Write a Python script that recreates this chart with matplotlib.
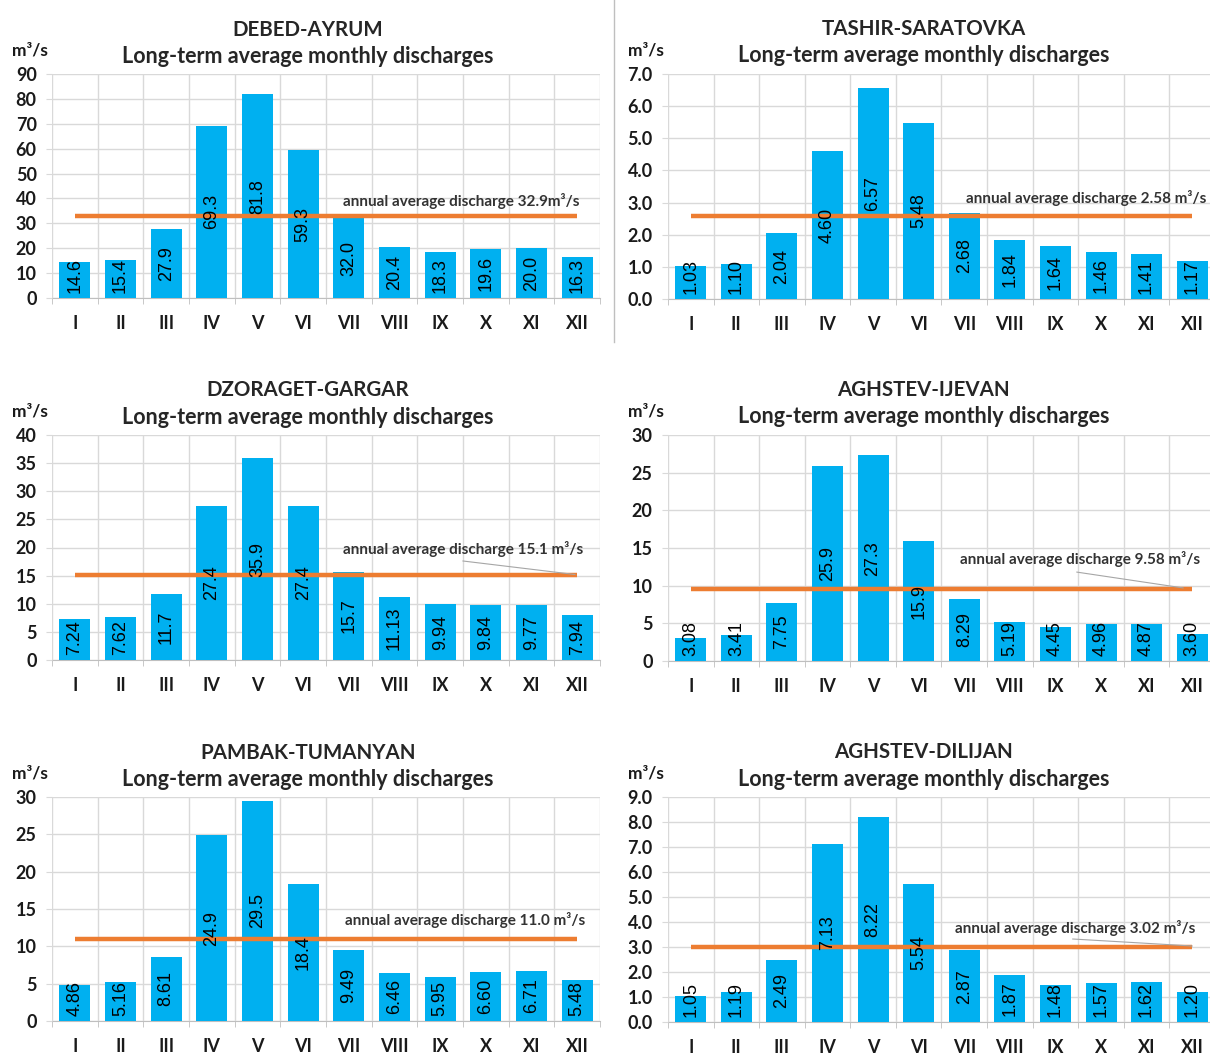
import matplotlib.pyplot as plt
from matplotlib.lines import Line2D
from matplotlib.ticker import FormatStrFormatter, MultipleLocator

plt.rcParams['font.family'] = ['Lato', 'DejaVu Sans']

W, H = 1210, 1055

months = ['I', 'II', 'III', 'IV', 'V', 'VI', 'VII', 'VIII', 'IX', 'X', 'XI', 'XII']

# long-term average monthly discharges, m3/s (kept as printed)
debed_ayrum = ['14.6', '15.4', '27.9', '69.3', '81.8', '59.3', '32.0', '20.4', '18.3', '19.6', '20.0', '16.3']
tashir_saratovka = ['1.03', '1.10', '2.04', '4.60', '6.57', '5.48', '2.68', '1.84', '1.64', '1.46', '1.41', '1.17']
dzoraget_gargar = ['7.24', '7.62', '11.7', '27.4', '35.9', '27.4', '15.7', '11.13', '9.94', '9.84', '9.77', '7.94']
aghstev_ijevan = ['3.08', '3.41', '7.75', '25.9', '27.3', '15.9', '8.29', '5.19', '4.45', '4.96', '4.87', '3.60']
pambak_tumanyan = ['4.86', '5.16', '8.61', '24.9', '29.5', '18.4', '9.49', '6.46', '5.95', '6.60', '6.71', '5.48']
aghstev_dilijan = ['1.05', '1.19', '2.49', '7.13', '8.22', '5.54', '2.87', '1.87', '1.48', '1.57', '1.62', '1.20']

# annual average discharges, m3/s
annual_avg = [32.9, 2.58, 15.1, 9.58, 11.0, 3.02]
avg_texts = ['annual average discharge 32.9m\u00b3/s',
             'annual average discharge 2.58 m\u00b3/s',
             'annual average discharge 15.1 m\u00b3/s',
             'annual average discharge 9.58 m\u00b3/s',
             'annual average discharge 11.0 m\u00b3/s',
             'annual average discharge 3.02 m\u00b3/s']

stations = ['DEBED-AYRUM', 'TASHIR-SARATOVKA', 'DZORAGET-GARGAR',
            'AGHSTEV-IJEVAN', 'PAMBAK-TUMANYAN', 'AGHSTEV-DILIJAN']
series = [debed_ayrum, tashir_saratovka, dzoraget_gargar,
          aghstev_ijevan, pambak_tumanyan, aghstev_dilijan]
y_max = [90, 7, 40, 30, 30, 9]
y_step = [10, 1, 5, 5, 5, 1]
y_fmt = ['%d', '%.1f', '%d', '%d', '%d', '%.1f']

# pixel boxes (left, right, top, bottom) of the plot areas
boxes = [(52, 600, 74, 298), (668, 1215, 74, 299),
         (52, 600, 435, 660), (668, 1215, 435, 661),
         (52, 600, 797, 1021), (668, 1215, 797, 1022)]
# where the average-line note sits (right edge x, centre y) and its leader line
note_pos = [(11.06, 39.0), (11.32, 3.14), (11.13, 19.7),
            (11.17, 13.5), (11.17, 13.5), (11.06, 3.76)]
leaders = [None, None, ((8.5, 17.6), (10.95, 15.2)),
           ((8.47, 11.8), (10.8, 9.7)), None, ((8.38, 3.32), (11.0, 3.04))]

BAR = '#00B0F0'
ORANGE = '#ED7D31'
GRID = '#D9D9D9'
TXT = '#1a1a1a'

fig = plt.figure(figsize=(W / 100, H / 100), dpi=100)

for k in range(6):
    l, r, t, b = boxes[k]
    ax = fig.add_axes([l / W, 1 - b / H, (r - l) / W, (b - t) / H])
    vals = [float(s) for s in series[k]]
    x = list(range(12))

    ax.bar(x, vals, width=0.68, color=BAR, zorder=2)
    ax.plot([0, 11], [annual_avg[k]] * 2, color=ORANGE, lw=3.2, zorder=3,
            solid_capstyle='butt')

    # value labels, rotated, centred in the bar but kept off the axis
    for i, (v, s) in enumerate(zip(vals, series[k])):
        yc = max(v / 2, 0.10 * y_max[k])
        ax.text(i, yc, s, rotation=90, ha='center', va='center',
                fontsize=13, family=['Liberation Sans', 'DejaVu Sans'],
                color='black', zorder=4)

    nx, ny = note_pos[k]
    ax.text(nx, ny, avg_texts[k], ha='right', va='center', fontsize=11,
            fontweight='bold', color='#333333', zorder=4)
    if leaders[k] is not None:
        (x0, y0), (x1, y1) = leaders[k]
        ax.plot([x0, x1], [y0, y1], color='#A6A6A6', lw=0.8, zorder=3)

    ax.set_xlim(-0.5, 11.5)
    ax.set_ylim(0, y_max[k])
    ax.yaxis.set_major_locator(MultipleLocator(y_step[k]))
    ax.yaxis.set_major_formatter(FormatStrFormatter(y_fmt[k]))
    ax.set_xticks(x)
    ax.set_xticklabels(months)
    ax.set_xticks([i - 0.5 for i in range(13)], minor=True)

    ax.grid(axis='y', which='major', color=GRID, lw=1, zorder=0)
    ax.grid(axis='x', which='minor', color=GRID, lw=1, zorder=0)
    ax.grid(axis='x', which='major', visible=False)
    for side in ['top', 'right', 'left']:
        ax.spines[side].set_visible(False)
    ax.spines['bottom'].set_color('#BFBFBF')
    ax.spines['bottom'].set_zorder(1)

    ax.tick_params(axis='x', which='major', length=0, pad=12,
                   labelsize=13, labelcolor=TXT)
    ax.tick_params(axis='x', which='minor', length=4, color='#BFBFBF')
    ax.tick_params(axis='y', length=4, color='#D9D9D9', pad=7,
                   labelsize=13, labelcolor=TXT)
    for lab in ax.get_xticklabels() + ax.get_yticklabels():
        lab.set_fontweight('bold')

    ax.text(0.467, 1.198, stations[k], transform=ax.transAxes, ha='center',
            va='center', fontsize=14.8, fontweight='bold', color='#262626')
    ax.text(0.467, 1.08, 'Long-term average monthly discharges',
            transform=ax.transAxes, ha='center', va='center', fontsize=15.5,
            fontweight='bold', color='#262626')
    ax.text(-0.04, 1.105, 'm\u00b3/s', transform=ax.transAxes, ha='center',
            va='center', fontsize=12.5, fontweight='bold', color=TXT)

# thin divider between the two top charts
fig.add_artist(Line2D([614 / W, 614 / W], [1, 1 - 342 / H],
                      transform=fig.transFigure, color='#BFBFBF', lw=1))

fig.savefig('out.png', dpi=100, facecolor='white')
